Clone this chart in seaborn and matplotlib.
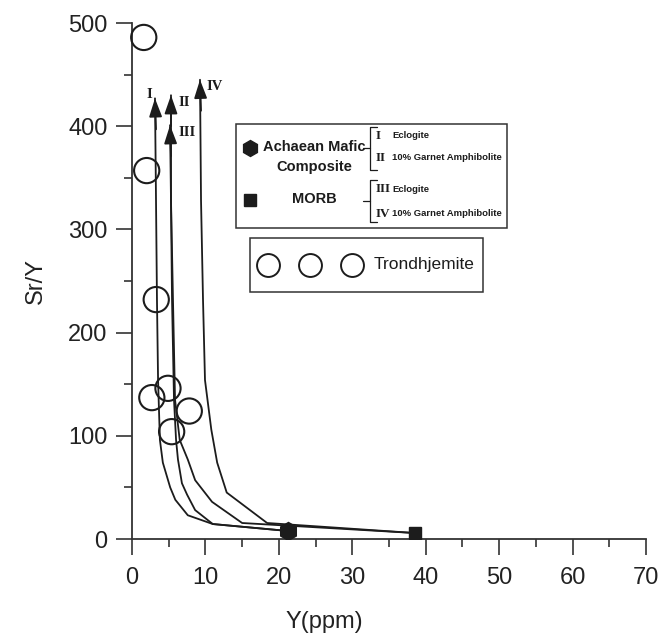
import numpy as np
import pandas as pd
import matplotlib
matplotlib.use('Agg')
import matplotlib.pyplot as plt
import seaborn as sns
from matplotlib.patches import Rectangle
from matplotlib.lines import Line2D

# --- data ---
# Trondhjemite samples
trond_y = [1.6, 2.0, 3.3, 2.7, 4.9, 7.8, 5.4]
trond_sry = [486, 357, 232, 137, 146, 124, 104]

# starting compositions
amc_y, amc_sry = [21.2], [7.8]      # Achaean mafic composite
morb_y, morb_sry = [38.5], [5.8]    # MORB

# melting trends, from the source composition up to the arrow tip
curve_labels = ['I', 'II', 'III', 'IV']
curve_I_y = [21.2, 11.0, 7.6, 5.9, 5.2, 4.2, 3.8, 3.55, 3.4, 3.27, 3.13]
curve_I_sry = [7.8, 14.5, 23, 38, 50, 74, 96, 154, 232, 328, 427]
curve_II_y = [21.2, 11.0, 8.6, 7.5, 6.8, 6.26, 6.0, 5.72, 5.45, 5.31, 5.31]
curve_II_sry = [7.8, 14.5, 28, 43, 54, 77, 96, 135, 232, 328, 430]
curve_III_y = [38.5, 15.0, 10.9, 8.6, 7.6, 6.5, 5.86, 5.58, 5.31, 5.18]
curve_III_sry = [5.8, 15.5, 36, 57, 77, 96, 135, 232, 328, 401]
curve_IV_y = [38.5, 18.4, 12.9, 11.6, 10.8, 9.94, 9.67, 9.4, 9.26]
curve_IV_sry = [5.8, 15.5, 45, 74, 106, 154, 232, 328, 445]

curves_y = [curve_I_y, curve_II_y, curve_III_y, curve_IV_y]
curves_sry = [curve_I_sry, curve_II_sry, curve_III_sry, curve_IV_sry]

W, H = 661, 642
INK = '#1c1c1c'


def fp(x, y):
    """pixel position -> figure fraction"""
    return x / W, 1 - y / H


def main():
    sns.set_style('ticks')
    plt.rcParams['font.family'] = ['Liberation Sans', 'DejaVu Sans']

    fig = plt.figure(figsize=(W / 100, H / 100), dpi=100)
    ax = fig.add_axes([132 / W, 1 - 539 / H, 514 / W, 516 / H])

    # --- melting curves with arrow heads ---
    for cy, cs in zip(curves_y, curves_sry):
        df = pd.DataFrame({'Y': cy, 'SrY': cs})
        sns.lineplot(data=df, x='Y', y='SrY', sort=False, estimator=None,
                     color=INK, lw=1.3, ax=ax)
        ax.annotate('', xy=(cy[-1], cs[-1]), xytext=(cy[-2], cs[-1] - 30),
                    arrowprops=dict(arrowstyle='-|>,head_length=0.8,head_width=0.28',
                                    mutation_scale=14, color=INK, lw=1.3,
                                    shrinkA=0, shrinkB=0))

    # roman numeral labels of the arrows
    serif = dict(family=['Liberation Serif', 'DejaVu Serif'], fontweight='bold',
                 fontsize=10.5, color=INK)
    ax.text(2.4, 431, 'I', ha='center', va='center', **serif)
    ax.text(6.3, 423, 'II', ha='left', va='center', **serif)
    ax.text(6.3, 394, 'III', ha='left', va='center', **serif)
    ax.text(10.2, 438, 'IV', ha='left', va='center', **serif)

    # --- samples ---
    sns.scatterplot(x=trond_y, y=trond_sry, marker='o', s=330, facecolors='none',
                    edgecolor=INK, linewidth=1.5, ax=ax, clip_on=False, zorder=4)
    ax.plot(amc_y, amc_sry, marker='h', ms=13, color=INK, ls='none', zorder=5)
    ax.plot(morb_y, morb_sry, marker='s', ms=9, color=INK, ls='none', zorder=5)

    # --- axes ---
    ax.set_xlim(0, 70)
    ax.set_ylim(0, 500)
    ax.set_xticks(np.arange(0, 71, 10))
    ax.set_xticks(np.arange(5, 70, 10), minor=True)
    ax.set_yticks(np.arange(0, 501, 100))
    ax.set_yticks(np.arange(50, 500, 100), minor=True)
    sns.despine(ax=ax)
    for sp in ['left', 'bottom']:
        ax.spines[sp].set_color('#333333')
        ax.spines[sp].set_linewidth(1.3)
    ax.tick_params(axis='both', which='major', direction='out', length=11.5,
                   width=1.2, color='#333333', labelsize=17, labelcolor='#222222')
    ax.tick_params(axis='both', which='minor', direction='out', length=6,
                   width=1.2, color='#333333')
    ax.tick_params(axis='x', which='major', pad=9)
    ax.tick_params(axis='y', which='major', pad=6)
    ax.set_xlabel('Y(ppm)', fontsize=17, color='#222222')
    ax.set_ylabel('Sr/Y', fontsize=17, color='#222222')
    ax.xaxis.set_label_coords(0.375, -0.14)
    ax.yaxis.set_label_coords(-0.165, 0.5)

    # --- legend box for source compositions ---
    x0, y0, x1, y1 = 236, 124, 507, 228
    fig.add_artist(Rectangle(fp(x0, y1), (x1 - x0) / W, (y1 - y0) / H,
                             transform=fig.transFigure, fill=False, ec='#333333', lw=1.1))
    fig.add_artist(Line2D(*zip(fp(250, 148)), marker='h', ms=11.5, color=INK,
                          transform=fig.transFigure))
    fig.add_artist(Line2D(*zip(fp(250, 200)), marker='s', ms=8, color=INK,
                          transform=fig.transFigure))
    bold = dict(fontweight='bold', color=INK, transform=fig.transFigure)
    fig.text(*fp(314, 147), 'Achaean Mafic', ha='center', va='center', fontsize=10.5, **bold)
    fig.text(*fp(314, 167), 'Composite', ha='center', va='center', fontsize=10.5, **bold)
    fig.text(*fp(314, 199), 'MORB', ha='center', va='center', fontsize=10.5, **bold)

    for yc, ytop, ybot in [(148, 127, 170), (201, 180, 222)]:
        xs, ys = zip(fp(363, yc), fp(370, yc))
        fig.add_artist(Line2D(xs, ys, color=INK, lw=0.9, transform=fig.transFigure))
        xs, ys = zip(fp(377, ytop), fp(370, ytop), fp(370, ybot), fp(377, ybot))
        fig.add_artist(Line2D(xs, ys, color=INK, lw=0.9, transform=fig.transFigure))

    rows = [(136, 'I', 'Eclogite'), (158, 'II', '10% Garnet Amphibolite'),
            (189, 'III', 'Eclogite'), (214, 'IV', '10% Garnet Amphibolite')]
    for yy, num, txt in rows:
        fig.text(*fp(376, yy), num, ha='left', va='center',
                 family=['Liberation Serif', 'DejaVu Serif'], fontweight='bold',
                 fontsize=9.5, color=INK)
        fig.text(*fp(392, yy), txt, ha='left', va='center', fontsize=6.8, **bold)

    # --- legend box for trondhjemite ---
    x0, y0, x1, y1 = 250, 238, 483, 292
    fig.add_artist(Rectangle(fp(x0, y1), (x1 - x0) / W, (y1 - y0) / H,
                             transform=fig.transFigure, fill=False, ec='#333333', lw=1.1))
    for cx in [268, 310, 352]:
        fig.add_artist(Line2D(*zip(fp(cx, 265)), marker='o', ms=16.5, mfc='none',
                              mec=INK, mew=1.4, transform=fig.transFigure))
    fig.text(*fp(374, 265), 'Trondhjemite', ha='left', va='center', fontsize=12.5,
             color=INK, transform=fig.transFigure)

    fig.savefig('out.png', dpi=100)


if __name__ == '__main__':
    main()
